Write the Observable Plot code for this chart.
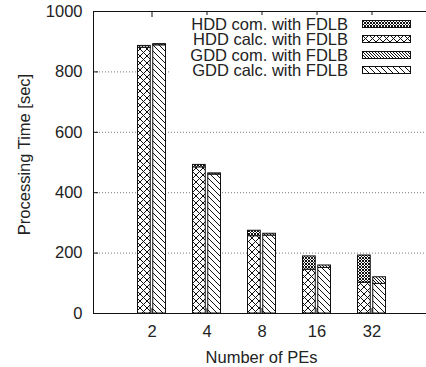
<!DOCTYPE html>
<html>
<head>
<meta charset="utf-8">
<script src="https://cdn.jsdelivr.net/npm/d3@7"></script>
<script src="https://cdn.jsdelivr.net/npm/@observablehq/plot@0.6"></script>
<style>
  html, body { margin: 0; padding: 0; background: #fff; overflow: hidden; }
  #wrap { position: relative; width: 426px; height: 367px; font-family: "Liberation Sans", Arial, sans-serif; color: #222; }
  #legend { position: absolute; left: 170px; top: 15px; width: 256px; height: 63px; background: #fff; }
  .row { position: absolute; left: 0; height: 15px; width: 256px; }
  .row span { position: absolute; right: 78px; top: 1.5px; font-size: 16.5px; line-height: 15px; white-space: nowrap; }
  .row svg { position: absolute; left: 192px; top: 4.5px; }
</style>
</head>
<body>
<svg width="0" height="0" style="position:absolute">
  <defs>
    <pattern id="hddCalc" patternUnits="userSpaceOnUse" width="7" height="7">
      <rect width="7" height="7" fill="#fff"/>
      <path d="M0,0L7,7M7,0L0,7" stroke="#111" stroke-width="1"/>
    </pattern>
    <pattern id="hddCom" patternUnits="userSpaceOnUse" width="3" height="3">
      <rect width="3" height="3" fill="#fff"/>
      <path d="M0,0L3,3M3,0L0,3" stroke="#111" stroke-width="1"/>
    </pattern>
    <pattern id="gddCalc" patternUnits="userSpaceOnUse" width="6" height="6">
      <rect width="6" height="6" fill="#fff"/>
      <path d="M0,0L6,6M-1,5L1,7M5,-1L7,1" stroke="#111" stroke-width="1"/>
    </pattern>
    <pattern id="gddCom" patternUnits="userSpaceOnUse" width="3" height="3">
      <rect width="3" height="3" fill="#fff"/>
      <path d="M0,0L3,3M-1,2L1,4M2,-1L4,1" stroke="#111" stroke-width="1"/>
    </pattern>
  </defs>
</svg>
<div id="wrap"></div>
<script>
// ---- data ----
const pes = ["2", "4", "8", "16", "32"];
const hddCalc = [880, 484, 256, 145, 102];
const hddCom  = [6, 8, 18, 44, 90];
const gddCalc = [888, 460, 258, 151, 98];
const gddCom  = [4, 4, 6, 8, 22];
const yTicks = [0, 200, 400, 600, 800, 1000];
const gridTicks = [200, 400, 600, 800];
const legendLabels = ["HDD com. with FDLB", "HDD calc. with FDLB", "GDD com. with FDLB", "GDD calc. with FDLB"];
const legendFills = ["url(#hddCom)", "url(#hddCalc)", "url(#gddCom)", "url(#gddCalc)"];

// build stacked table
const rows = [];
pes.forEach((p, i) => {
  rows.push({pe: p, sys: "HDD", part: "calc", y1: 0, y2: hddCalc[i]});
  rows.push({pe: p, sys: "HDD", part: "com", y1: hddCalc[i], y2: hddCalc[i] + hddCom[i]});
  rows.push({pe: p, sys: "GDD", part: "calc", y1: 0, y2: gddCalc[i]});
  rows.push({pe: p, sys: "GDD", part: "com", y1: gddCalc[i], y2: gddCalc[i] + gddCom[i]});
});
const fillOf = {HDDcalc: "url(#hddCalc)", HDDcom: "url(#hddCom)", GDDcalc: "url(#gddCalc)", GDDcom: "url(#gddCom)"};

const font = {fontSize: 16.5, fill: "#222"};
const bw = 31.5; // approx bandwidth (for half-bar insets)

const hddRows = rows.filter(d => d.sys === "HDD");
const gddRows = rows.filter(d => d.sys === "GDD");

const barMarks = [];
for (const part of ["calc", "com"]) {
  barMarks.push(Plot.rectY(hddRows.filter(d => d.part === part), {
    x: "pe", y1: "y1", y2: "y2", fill: fillOf["HDD" + part], stroke: "#111", strokeWidth: 1,
    insetLeft: 1.5, insetRight: bw / 2 + 1
  }));
  barMarks.push(Plot.rectY(gddRows.filter(d => d.part === part), {
    x: "pe", y1: "y1", y2: "y2", fill: fillOf["GDD" + part], stroke: "#111", strokeWidth: 1,
    insetLeft: bw / 2 + 1, insetRight: 1.5
  }));
}

const chart = Plot.plot({
  width: 426,
  height: 367,
  marginLeft: 93,
  marginRight: -3,
  marginTop: 11,
  marginBottom: 54,
  style: {fontFamily: "'Liberation Sans', Arial, sans-serif", background: "#fff"},
  x: {type: "band", domain: pes, paddingInner: 0.44, paddingOuter: 0.73, axis: null},
  y: {domain: [0, 1000], axis: null},
  marks: [
    Plot.gridY(gridTicks, {stroke: "#777", strokeOpacity: 1, strokeDasharray: "1,2"}),
    ...barMarks,
    Plot.frame({stroke: "#111", strokeWidth: 1}),
    Plot.axisY(yTicks, {tickSize: -5, tickFormat: () => "", stroke: "#111", label: null}),
    Plot.axisY(yTicks, {tickSize: 0, tickPadding: 11, tickFormat: d => String(d), ...font, label: null}),
    Plot.axisX(pes, {anchor: "bottom", tickSize: -5, tickFormat: () => "", stroke: "#111", label: null}),
    Plot.axisX(pes, {anchor: "top", tickSize: -5, tickFormat: () => "", stroke: "#111", label: null}),
    Plot.axisX(pes, {anchor: "bottom", tickSize: 0, tickPadding: 12, ...font, label: null}),
    Plot.text(["Number of PEs"], {frameAnchor: "bottom", dy: 44, fontSize: 16.5, fill: "#222", textAnchor: "middle", lineAnchor: "middle"}),
    Plot.text(["Processing Time [sec]"], {frameAnchor: "left", rotate: -90, dx: -69, dy: -8, fontSize: 16.5, fill: "#222", textAnchor: "middle", lineAnchor: "middle"})
  ]
});
const wrap = document.getElementById("wrap");
wrap.appendChild(chart);

// legend
const leg = document.createElement("div");
leg.id = "legend";
legendLabels.forEach((lab, i) => {
  const r = document.createElement("div");
  r.className = "row";
  r.style.top = (i * 15.5) + "px";
  const s = document.createElement("span");
  s.textContent = lab;
  r.appendChild(s);
  const sw = document.createElementNS("http://www.w3.org/2000/svg", "svg");
  sw.setAttribute("width", "50");
  sw.setAttribute("height", "9");
  const rc = document.createElementNS("http://www.w3.org/2000/svg", "rect");
  rc.setAttribute("x", "0.5"); rc.setAttribute("y", "0.5");
  rc.setAttribute("width", "48"); rc.setAttribute("height", "7");
  rc.setAttribute("fill", legendFills[i]);
  rc.setAttribute("stroke", "#111");
  sw.appendChild(rc);
  r.appendChild(sw);
  leg.appendChild(r);
});
wrap.appendChild(leg);
</script>
</body>
</html>
